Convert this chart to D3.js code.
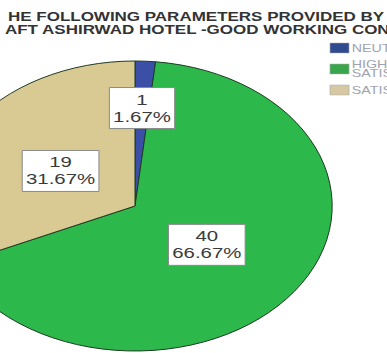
<!DOCTYPE html>
<html>
<head>
<meta charset="utf-8">
<script src="https://cdn.jsdelivr.net/npm/d3@7"></script>
<style>
  body { margin: 0; background: #fff; }
  svg { display: block; }
</style>
</head>
<body>
<div id="chart"></div>
<script>
const CATEGORIES = ["NEUTRAL", "HIGHLY SATISFIED", "SATISFIED"];
const COUNTS = [1, 40, 19];
const PERCENTS = ["1.67%", "66.67%", "31.67%"];
const COLORS = ["#3b4fa6", "#2db84b", "#d9c992"];
const LEGEND_COLORS = ["#2f4a8f", "#3aa64c", "#d6c8a2"];
const TITLE_LINES = [
    "HE FOLLOWING PARAMETERS PROVIDED BY",
    "AFT ASHIRWAD HOTEL -GOOD WORKING COND"
];

const width = 387, height = 353;
// the source picture is stretched horizontally
const sx = 1.36;

const svg = d3.select("#chart")
    .append("svg")
    .attr("width", width)
    .attr("height", height)
    .style("background", "#fff");

const root = svg.append("g")
    .attr("transform", `scale(${sx},1)`);

// title
const title = root.append("g")
    .style("font-family", "Liberation Sans, Arial, sans-serif")
    .style("font-weight", "bold")
    .style("font-size", "12.5px")
    .attr("fill", "#333");

title.selectAll("text")
    .data(TITLE_LINES)
    .enter()
    .append("text")
    .attr("x", (d, i) => (i === 0 ? 8 : 5) / sx)
    .attr("y", (d, i) => 21 + i * 13)
    .text(d => d);

// pie
const cx = 135 / sx, cy = 206, r = 145;

const data = CATEGORIES.map((c, i) => ({
    category: c,
    count: COUNTS[i],
    pct: PERCENTS[i],
    color: COLORS[i]
}));

const pie = d3.pie()
    .sort(null)
    .value(d => d.count);

const arc = d3.arc()
    .innerRadius(0)
    .outerRadius(r);

const arcs = pie(data);

const g = root.append("g")
    .attr("transform", `translate(${cx},${cy})`);

g.selectAll("path")
    .data(arcs)
    .enter()
    .append("path")
    .attr("d", arc)
    .attr("fill", d => d.data.color)
    .attr("stroke", "#1d3b22")
    .attr("stroke-width", 1)
    .attr("vector-effect", "non-scaling-stroke");

// value labels
const labelArcSmall = d3.arc().innerRadius(r * 0.68).outerRadius(r * 0.68);
const labelArc = d3.arc().innerRadius(r * 0.45).outerRadius(r * 0.45);

const labels = g.selectAll(".lbl")
    .data(arcs)
    .enter()
    .append("g")
    .attr("class", "lbl")
    .attr("transform", d => {
        const a = (d.endAngle - d.startAngle) < 0.3 ? labelArcSmall : labelArc;
        const [x, y] = a.centroid(d);
        return `translate(${x},${y})`;
    });

labels.append("rect")
    .attr("x", d => -(d.data.pct.length * 8.4 + 6) / 2)
    .attr("y", -20)
    .attr("width", d => d.data.pct.length * 8.4 + 6)
    .attr("height", 41)
    .attr("fill", "#fff")
    .attr("stroke", "#8a8a8a")
    .attr("stroke-width", 1)
    .attr("vector-effect", "non-scaling-stroke");

labels.append("text")
    .attr("text-anchor", "middle")
    .style("font-family", "Liberation Sans, Arial, sans-serif")
    .style("font-size", "15px")
    .attr("fill", "#3a3a3a")
    .selectAll("tspan")
    .data(d => [String(d.data.count), d.data.pct])
    .enter()
    .append("tspan")
    .attr("x", 0)
    .attr("y", (d, i) => i === 0 ? -3 : 14)
    .text(d => d);

// legend
const legend = root.append("g")
    .attr("transform", `translate(${330 / sx},43)`);

const legendItems = legend.selectAll(".legend-item")
    .data(CATEGORIES)
    .enter()
    .append("g")
    .attr("class", "legend-item")
    .attr("transform", (d, i) => `translate(0,${i * 21})`);

legendItems.append("rect")
    .attr("width", 14)
    .attr("height", 10)
    .attr("fill", (d, i) => LEGEND_COLORS[i])
    .attr("stroke", "#aaa")
    .attr("stroke-width", 0.5);

legendItems.append("text")
    .style("font-family", "Liberation Sans, Arial, sans-serif")
    .style("font-size", "10.5px")
    .attr("fill", "#a0a4ae")
    .selectAll("tspan")
    .data(d => d === "HIGHLY SATISFIED" ? ["HIGHLY", "SATISFIED"] : [d])
    .enter()
    .append("tspan")
    .attr("x", 16)
    .attr("y", (d, i, nodes) => nodes.length > 1 ? 4 + i * 9 : 9)
    .text(d => d);
</script>
</body>
</html>
